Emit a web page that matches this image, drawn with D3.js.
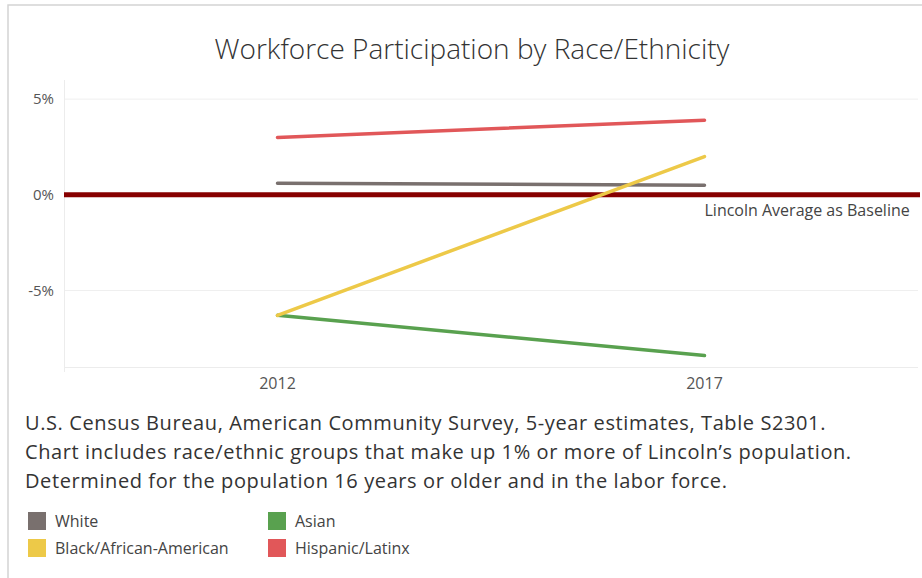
<!DOCTYPE html>
<html>
<head>
<meta charset="utf-8">
<script src="https://cdn.jsdelivr.net/npm/d3@7"></script>
<style>
  body { margin: 0; background: #fff; }
  text { font-family: "Open Sans", "Noto Sans", sans-serif; }
</style>
</head>
<body>
<div id="chart"></div>
<script>
// data
var years = ["2012", "2017"];
var groups = ["White", "Black/African-American", "Asian", "Hispanic/Latinx"];
var white = [0.6, 0.5];
var black = [-6.3, 2.0];
var asian = [-6.3, -8.4];
var hispanic = [3.0, 3.9];
var yTicks = [5, 0, -5];
var notes = [
    "U.S. Census Bureau, American Community Survey, 5-year estimates, Table S2301.",
    "Chart includes race/ethnic groups that make up 1% or more of Lincoln\u2019s population.",
    "Determined for the population 16 years or older and in the labor force."
];

var colors = {
    "White": "#79706e",
    "Black/African-American": "#edc948",
    "Asian": "#59a14f",
    "Hispanic/Latinx": "#e15759"
};

var series = [
    { name: "White", values: white },
    { name: "Asian", values: asian },
    { name: "Black/African-American", values: black },
    { name: "Hispanic/Latinx", values: hispanic }
];

var width = 922, height = 578;
var m = { left: 64, right: 918, top: 80, bottom: 367 };

const svg = d3.select("#chart").append("svg")
    .attr("width", width)
    .attr("height", height);

// outer frame
svg.append("path")
    .attr("d", "M8,578 L8,5 L922,5")
    .attr("fill", "none")
    .attr("stroke", "#d4d4d4")
    .attr("stroke-width", 1.5);

svg.append("text")
    .attr("x", 472)
    .attr("y", 59)
    .attr("text-anchor", "middle")
    .style("font-size", "28px")
    .style("font-weight", 300)
    .style("fill", "#333")
    .text("Workforce Participation by Race/Ethnicity");

var x = d3.scalePoint().domain(years).range([m.left, m.right]).padding(0.5);
var y = d3.scaleLinear().domain([-9, 6]).range([m.bottom, m.top]);

// gridlines
svg.selectAll(".grid")
    .data(yTicks).enter()
    .append("line")
    .attr("class", "grid")
    .attr("x1", m.left).attr("x2", m.right)
    .attr("y1", d => y(d)).attr("y2", d => y(d))
    .attr("stroke", "#efefef")
    .attr("stroke-width", 1);

// pane edges
svg.append("line")
    .attr("x1", m.left + 0.5).attr("x2", m.left + 0.5)
    .attr("y1", m.top).attr("y2", m.bottom + 5)
    .attr("stroke", "#ececec");
svg.append("line")
    .attr("x1", m.left).attr("x2", m.right)
    .attr("y1", m.bottom + 0.5).attr("y2", m.bottom + 0.5)
    .attr("stroke", "#ececec");

// y axis labels
svg.selectAll(".ytick")
    .data(yTicks).enter()
    .append("text")
    .attr("class", "ytick")
    .attr("x", 54)
    .attr("y", d => y(d))
    .attr("dy", "0.35em")
    .attr("text-anchor", "end")
    .style("font-size", "15px")
    .style("fill", "#555")
    .text(d => d + "%");

// x axis labels
svg.selectAll(".xtick")
    .data(years).enter()
    .append("text")
    .attr("class", "xtick")
    .attr("x", d => x(d))
    .attr("y", 383)
    .attr("dy", "0.35em")
    .attr("text-anchor", "middle")
    .style("font-size", "16px")
    .style("fill", "#555")
    .text(d => d);

// baseline
svg.append("line")
    .attr("x1", m.left).attr("x2", 920)
    .attr("y1", y(0)).attr("y2", y(0))
    .attr("stroke", "#870000")
    .attr("stroke-width", 5);

svg.append("text")
    .attr("x", x("2017"))
    .attr("y", 210)
    .attr("dy", "0.35em")
    .style("font-size", "16px")
    .style("fill", "#444")
    .text("Lincoln Average as Baseline");

var line = d3.line()
    .x((d, i) => x(years[i]))
    .y(d => y(d));

svg.selectAll(".series")
    .data(series).enter()
    .append("path")
    .attr("class", "series")
    .attr("d", d => line(d.values))
    .attr("fill", "none")
    .attr("stroke", d => colors[d.name])
    .attr("stroke-width", 3.5)
    .attr("stroke-linecap", "round");

// notes
svg.selectAll(".note")
    .data(notes).enter()
    .append("text")
    .attr("class", "note")
    .attr("x", 25)
    .attr("y", (d, i) => 423 + i * 29)
    .attr("dy", "0.35em")
    .style("font-size", "20px")
    .style("letter-spacing", "0.6px")
    .style("fill", "#333")
    .text(d => d);

// legend: White, Asian / Black, Hispanic
var legend = svg.selectAll(".legend")
    .data(groups).enter()
    .append("g")
    .attr("class", "legend")
    .attr("transform", function (d) {
        var col = (d == "Asian" || d == "Hispanic/Latinx") ? 268 : 28;
        var row = (d == "White" || d == "Asian") ? 512 : 539;
        return "translate(" + col + "," + row + ")";
    });

legend.append("rect")
    .attr("width", 18).attr("height", 18)
    .attr("fill", d => colors[d]);

legend.append("text")
    .attr("x", 27)
    .attr("y", 9)
    .attr("dy", "0.35em")
    .style("font-size", "16px")
    .style("fill", "#444")
    .text(d => d);
</script>
</body>
</html>
